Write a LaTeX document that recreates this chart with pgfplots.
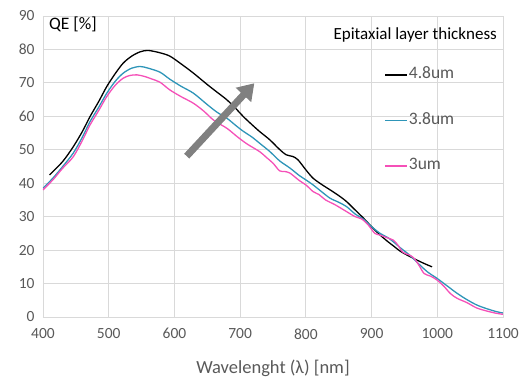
\documentclass[border=0pt]{standalone}
\usepackage{fontspec}
\setmainfont{Carlito}
\usepackage{pgfplots}
\pgfplotsset{compat=1.18}
\usetikzlibrary{arrows.meta}
\definecolor{gridgray}{HTML}{D9D9D9}
\definecolor{ticktext}{HTML}{595959}
\definecolor{cyanline}{HTML}{2E95B8}
\definecolor{pinkline}{HTML}{F550B8}
\definecolor{arrowgray}{HTML}{808080}
\begin{document}
\begin{tikzpicture}
\begin{axis}[
  name=main,
  scale only axis,
  width=460pt, height=301pt,
  xmin=400, xmax=1100, ymin=0, ymax=90,
  xtick={400,500,...,1100}, ytick={0,10,...,90},
  grid=major,
  major grid style={gridgray, line width=0.8pt},
  axis line style={gridgray, line width=0.8pt},
  tick style={draw=none},
  /pgf/number format/assume math mode=true,
  /pgf/number format/1000 sep={},
  tick label style={font=\fontsize{15.5}{17}\selectfont, text=ticktext},
  xticklabel style={yshift=-8pt},
  yticklabel style={xshift=-5pt},
  xlabel={Wavelenght (λ) [nm]},
  xlabel style={font=\fontsize{18.5}{20}\selectfont, text=ticktext, yshift=-14pt},
  legend cell align=left,
  legend image code/.code={\draw[#1] (0pt,0pt) -- (22pt,0pt);},
  legend style={draw=none, fill=none, inner sep=0pt, outer sep=0pt,
    at={(axis cs:919.8,75.06)}, anchor=north west,
    row sep=27.5pt,
    font=\fontsize{17.5}{19}\selectfont, text=ticktext,
    nodes={text height=12pt, text depth=4pt, inner sep=1pt}},
]
\addplot[black, line width=1.3pt, smooth] coordinates {
(410,42.5)(430,46.5)(446,50.9)(460,55.5)(471.5,59.9)(485,64.5)(497,68.9)(510,72.8)
(522,75.9)(535,78)(548,79.3)(560,79.7)(578,79)(593,78)(610,75.7)(629,72.9)
(650,69.5)(665,67.2)(680,64.9)(695,62)(705,59.9)(718,57.5)(730,55.4)(745,53)
(760,50.1)(770,48.5)(780,48)(788,47)(800,44)(811,41.5)(825,39.5)(837,38)
(850,36.3)(862,34.5)(875,32)(888,29.5)(900,27)(913,24.5)(925,22.5)(933,21.3)
(945,19.5)(964,17.5)(980,16)(992,15)};
\addlegendentry{4.8um}
\addplot[cyanline, line width=1.3pt, smooth] coordinates {
(400,38.5)(415,41.5)(430,45)(446,49)(460,53.8)(471.5,58.4)(485,62.8)(497,66.9)
(510,70.5)(522,72.9)(535,74.4)(548,74.9)(560,74.4)(578,73.2)(593,71.1)(610,69)
(629,66.9)(650,63.5)(665,61.2)(680,59.4)(695,57)(705,55.5)(718,53.8)(730,51.9)
(745,49.5)(760,46.7)(776,44.5)(790,42.3)(800,41)(811,39.5)(825,37.3)(837,35.5)
(850,34.3)(862,33)(875,30.8)(888,29.2)(900,27)(913,25)(925,23.7)(933,22.5)
(945,20.5)(958,18.5)(970,16.2)(985,13.5)(1000,11.5)(1015,9.3)(1030,7.1)(1045,5.2)
(1060,3.6)(1075,2.5)(1090,1.6)(1100,1.2)};
\addlegendentry{3.8um}
\addplot[pinkline, line width=1.3pt, smooth] coordinates {
(400,38)(415,41)(430,44.5)(446,47.9)(460,52.8)(471.5,57.4)(485,61.8)(497,65.9)
(510,69.3)(522,71.4)(532,72.2)(543,72.4)(555,71.9)(565,71.2)(578,70.2)(593,67.9)
(610,65.9)(629,63.9)(645,61.5)(660,58.8)(680,56.4)(695,54)(710,51.8)(730,49.4)
(740,47.7)(750,46)(760,43.7)(768,43.5)(776,43)(790,40.8)(800,39.5)(811,37.5)
(820,36.6)(830,35)(845,33.5)(862,31.5)(875,30)(885,29.3)(895,27.5)(905,25)
(913,24.5)(922,23.8)(933,23)(940,21.5)(948,19.3)(958,18.5)(965,17.5)(972,15.5)
(980,13)(990,12.2)(1000,11)(1010,9.2)(1020,7)(1030,5.6)(1045,4.3)(1060,2.7)
(1075,1.8)(1090,1.1)(1100,0.8)};
\addlegendentry{3um}
\node[anchor=base west, inner sep=0pt, font=\fontsize{17.5}{19}\selectfont, text=black] at (axis cs:409,86.1) {QE [\%]};
\node[anchor=base east, inner sep=0pt, font=\fontsize{17}{19}\selectfont, text=black] at (axis cs:1091,83) {Epitaxial layer thickness};
\draw[arrowgray, line width=7pt, -{Triangle[width=20pt,length=16pt]}] (axis cs:618.7,48.1) -- (axis cs:721.6,69.9);
\end{axis}
\path[use as bounding box] (main.south west) ++(-43pt,-63pt) rectangle ++(528pt,380pt);
\end{tikzpicture}
\end{document}
